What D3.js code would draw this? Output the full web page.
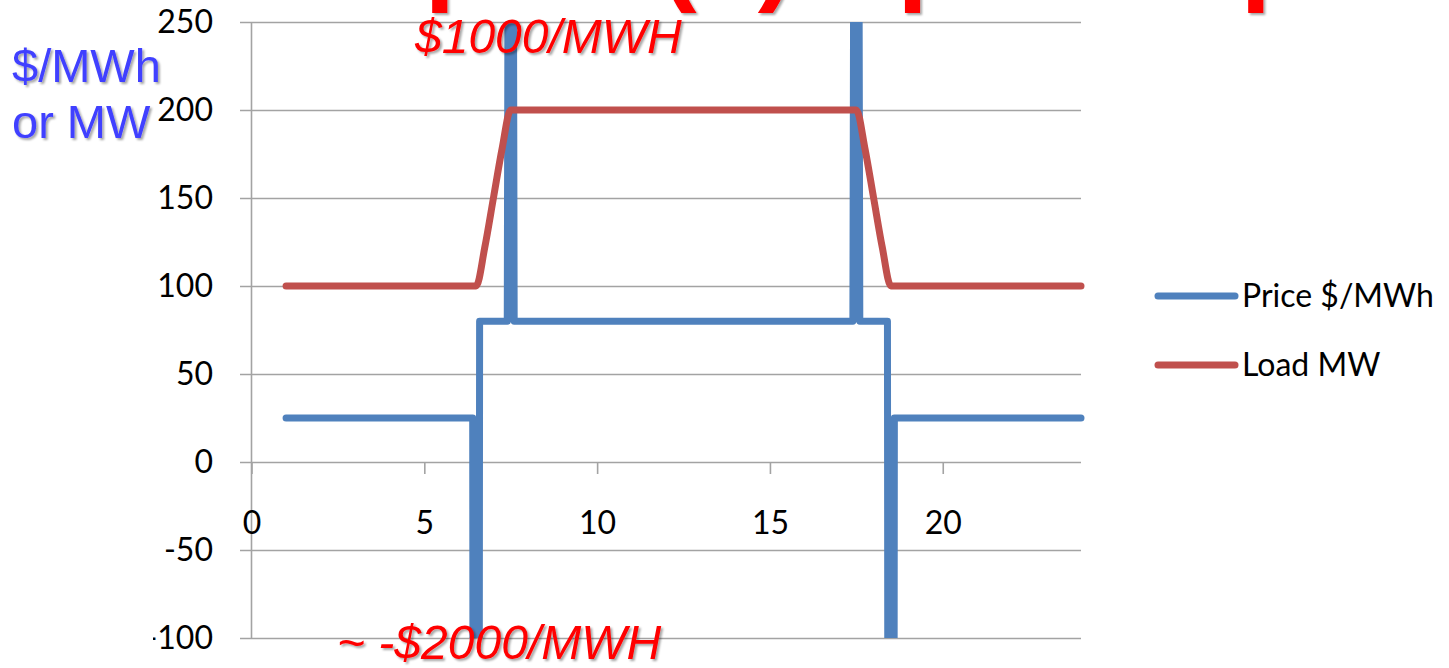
<!DOCTYPE html>
<html>
<head>
<meta charset="utf-8">
<script src="https://cdn.jsdelivr.net/npm/d3@7"></script>
<style>
  html, body { margin: 0; padding: 0; background: #fff; }
  svg { display: block; }
</style>
</head>
<body>
<svg id="chart" width="1449" height="668"></svg>
<script>
// Hour-of-day samples for the price series ($/MWh)
const priceHours  = [1, 6.4, 6.5, 6.6, 7.4, 7.5, 7.6, 17.4, 17.5, 17.6, 18.4, 18.5, 18.6, 24];
const priceValues = [25, 25, -2000, 80, 80, 1000, 80, 80, 1000, 80, 80, -2000, 25, 25];

// Hour-of-day samples for the load series (MW), quarter-hourly around the ramps
const loadHours  = [1, 6.25, 6.5, 6.75, 7, 7.25, 7.5, 7.75, 17.25, 17.5, 17.75, 18, 18.25, 18.5, 18.75, 24];
const loadValues = [100, 100, 100, 122, 150, 178, 200, 200, 200, 200, 178, 150, 122, 100, 100, 100];

// Axis ticks
const yTicks = [-100, -50, 0, 50, 100, 150, 200, 250];
const xTicks = [0, 5, 10, 15, 20];

const seriesNames = ["Price $/MWh", "Load MW"];
const seriesColors = ["#4f81bd", "#c0504d"];

const svg = d3.select("#chart");

const x = d3.scaleLinear().domain([0, 24]).range([251.5, 1081]);
const y = d3.scaleLinear().domain([-100, 250]).range([638, 22]);

const defs = svg.append("defs");
defs.append("clipPath").attr("id", "plotClip")
  .append("rect")
  .attr("x", x(0) - 20).attr("y", y(250))
  .attr("width", x(24) - x(0) + 40).attr("height", y(-100) - y(250));
defs.append("clipPath").attr("id", "labelClip")
  .append("rect").attr("x", 153).attr("y", 0).attr("width", 1300).attr("height", 668);
const shadow = defs.append("filter").attr("id", "txtShadow")
  .attr("x", "-10%").attr("y", "-20%").attr("width", "130%").attr("height", "150%");
shadow.append("feDropShadow")
  .attr("dx", 2).attr("dy", 2).attr("stdDeviation", 1.2)
  .attr("flood-color", "#000").attr("flood-opacity", 0.35);

const tickFont = "Lato, 'Open Sans', sans-serif";
const plainNumber = d => String(d);

// Horizontal gridlines + y tick labels (wrapper keeps the clip in page space)
const yWrap = svg.append("g").attr("clip-path", "url(#labelClip)");
const yAxis = yWrap.append("g")
  .attr("transform", `translate(${x(24)},0)`)
  .call(d3.axisLeft(y).tickValues(yTicks).tickFormat(plainNumber)
    .tickSize(x(24) - 240).tickSizeOuter(0).tickPadding(27));
yAxis.select(".domain").remove();
yAxis.selectAll(".tick line").attr("stroke", "#a3a3a3").attr("stroke-width", 1.6);
yAxis.selectAll(".tick text")
  .attr("font-family", tickFont).attr("font-size", 32).attr("fill", "#000");

// Vertical value axis line
svg.append("line")
  .attr("x1", x(0)).attr("x2", x(0))
  .attr("y1", y(250)).attr("y2", y(-100))
  .attr("stroke", "#a3a3a3").attr("stroke-width", 1.6);

// Category axis at zero
const xAxis = svg.append("g")
  .attr("transform", `translate(0,${y(0)})`)
  .call(d3.axisBottom(x).tickValues(xTicks).tickFormat(plainNumber)
    .tickSize(12).tickSizeOuter(0).tickPadding(37));
xAxis.select(".domain").remove();
xAxis.selectAll(".tick line").attr("stroke", "#a3a3a3").attr("stroke-width", 1.6);
xAxis.selectAll(".tick text")
  .attr("font-family", tickFont).attr("font-size", 32).attr("fill", "#000");

// Series lines
const plot = svg.append("g").attr("clip-path", "url(#plotClip)");

const priceLine = d3.line()
  .x((d, i) => x(priceHours[i]))
  .y(d => y(d));
plot.append("path")
  .datum(priceValues)
  .attr("d", priceLine)
  .attr("fill", "none")
  .attr("stroke", seriesColors[0])
  .attr("stroke-width", 7)
  .attr("stroke-linejoin", "round")
  .attr("stroke-linecap", "round");

const loadLine = d3.line()
  .x((d, i) => x(loadHours[i]))
  .y(d => y(d))
  .curve(d3.curveMonotoneX);
plot.append("path")
  .datum(loadValues)
  .attr("d", loadLine)
  .attr("fill", "none")
  .attr("stroke", seriesColors[1])
  .attr("stroke-width", 7)
  .attr("stroke-linejoin", "round")
  .attr("stroke-linecap", "round");

// Legend
const legend = svg.append("g");
seriesNames.forEach((name, i) => {
  const ly = 296 + i * 69;
  legend.append("line")
    .attr("x1", 1158).attr("x2", 1235).attr("y1", ly).attr("y2", ly)
    .attr("stroke", seriesColors[i]).attr("stroke-width", 7)
    .attr("stroke-linecap", "round");
  legend.append("text")
    .attr("x", 1242).attr("y", ly).attr("dy", "0.35em")
    .attr("font-family", tickFont).attr("font-size", 32).attr("fill", "#000")
    .text(name);
});

// Slide title (runs off the top edge)
const title = svg.append("text")
  .attr("y", -10)
  .attr("font-family", "'Liberation Sans', Arial, sans-serif")
  .attr("font-weight", "bold").attr("font-size", 110)
  .attr("fill", "#ff0000").attr("filter", "url(#txtShadow)");
title.append("tspan").attr("x", 131).text("Example");
title.append("tspan").attr("x", 660).text("(1)");
title.append("tspan").attr("x", 824).text("Spike");
title.append("tspan").attr("x", 1161).text("Up");

// Unit label
const unitLabel = svg.append("text")
  .attr("font-family", "'Liberation Sans', Arial, sans-serif")
  .attr("font-size", 47).attr("fill", "#4040ff").attr("filter", "url(#txtShadow)");
unitLabel.append("tspan").attr("x", 12).attr("y", 82).text("$/MWh");
unitLabel.append("tspan").attr("x", 12).attr("y", 138).text("or MW");

// Spike annotations
svg.append("text")
  .attr("x", 415).attr("y", 53)
  .attr("font-family", "'Liberation Sans', Arial, sans-serif")
  .attr("font-style", "italic").attr("font-size", 48)
  .attr("fill", "#ff0000").attr("filter", "url(#txtShadow)")
  .text("$1000/MWH");
svg.append("text")
  .attr("x", 337).attr("y", 659)
  .attr("font-family", "'Liberation Sans', Arial, sans-serif")
  .attr("font-style", "italic").attr("font-size", 48)
  .attr("fill", "#ff0000").attr("filter", "url(#txtShadow)")
  .text("~ -$2000/MWH");
</script>
</body>
</html>
